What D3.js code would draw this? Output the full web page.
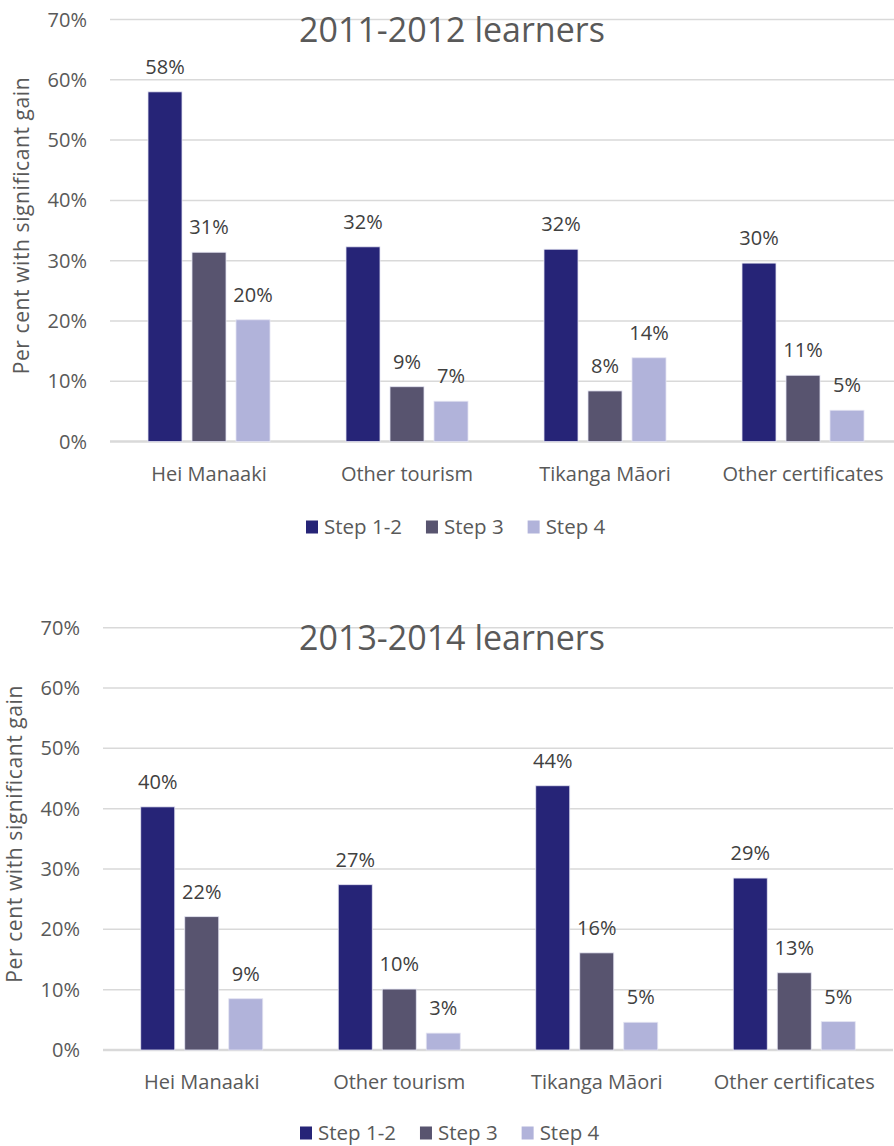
<!DOCTYPE html>
<html>
<head>
<meta charset="utf-8">
<script src="https://cdn.jsdelivr.net/npm/d3@7"></script>
<style>
  body { margin: 0; background: #fff; }
  text { font-family: "Open Sans", sans-serif; fill: #595959; }
</style>
</head>
<body>
<div id="chart"></div>
<script>
// data
var categories = ['Hei Manaaki', 'Other tourism', 'Tikanga Māori', 'Other certificates'];
var seriesNames = ['Step 1-2', 'Step 3', 'Step 4'];
var seriesColors = ['#262477', '#58546f', '#b1b3da'];
var yTicks = [0, 10, 20, 30, 40, 50, 60, 70];

var learners2011 = [
    [58, 31.4, 20.2],
    [32.3, 9.1, 6.7],
    [31.9, 8.4, 13.9],
    [29.6, 11.0, 5.2]
];
var learners2013 = [
    [40.3, 22.1, 8.5],
    [27.4, 10.1, 2.8],
    [43.8, 16.1, 4.6],
    [28.5, 12.8, 4.7]
];

var svg = d3.select('#chart')
    .append('svg')
    .attr('width', 894)
    .attr('height', 1146);

drawChart(svg, {
    title: '2011-2012 learners',
    data: learners2011,
    left: 110, right: 902, top: 19.5, bottom: 441.6,
    axisLabelX: 22, titleY: 42, legendX: 306, legendY: 527
});

drawChart(svg, {
    title: '2013-2014 learners',
    data: learners2013,
    left: 103, right: 893, top: 627.7, bottom: 1050,
    axisLabelX: 15, titleY: 650, legendX: 300, legendY: 1133
});

function drawChart(svg, o) {
    var g = svg.append('g');

    var x0 = d3.scaleBand()
        .domain(categories)
        .range([o.left, o.right]);

    var x1 = d3.scaleBand()
        .domain(seriesNames)
        .range([-61, 61])
        .paddingInner(10 / 44);

    var y = d3.scaleLinear()
        .domain([0, 70])
        .range([o.bottom, o.top]);

    // gridlines
    g.append('g')
        .selectAll('line')
        .data(yTicks)
        .enter()
        .append('line')
        .attr('x1', o.left)
        .attr('x2', o.right)
        .attr('y1', function (d) { return y(d); })
        .attr('y2', function (d) { return y(d); })
        .attr('stroke', '#d9d9d9')
        .attr('stroke-width', function (d) { return d === 0 ? 2.5 : 1.5; });

    // y tick labels
    g.append('g')
        .selectAll('text')
        .data(yTicks)
        .enter()
        .append('text')
        .attr('x', o.left - 23)
        .attr('y', function (d) { return y(d); })
        .attr('dy', '0.35em')
        .attr('text-anchor', 'end')
        .style('font-size', '20px')
        .text(function (d) { return d + '%'; });

    // bars
    var groups = g.append('g')
        .selectAll('g')
        .data(o.data)
        .enter()
        .append('g')
        .attr('transform', function (d, i) {
            return 'translate(' + (x0(categories[i]) + x0.bandwidth() / 2) + ',0)';
        });

    groups.selectAll('rect')
        .data(function (d) { return d; })
        .enter()
        .append('rect')
        .attr('x', function (d, j) { return x1(seriesNames[j]); })
        .attr('width', x1.bandwidth())
        .attr('y', function (d) { return y(d); })
        .attr('height', function (d) { return y(0) - y(d); })
        .attr('fill', function (d, j) { return seriesColors[j]; })
        .attr('stroke', '#e4e4f2')
        .attr('stroke-width', 0.8);

    groups.selectAll('text')
        .data(function (d) { return d; })
        .enter()
        .append('text')
        .attr('x', function (d, j) { return x1(seriesNames[j]) + x1.bandwidth() / 2; })
        .attr('y', function (d) { return y(d) - 18; })
        .attr('text-anchor', 'middle')
        .style('font-size', '20px')
        .style('fill', '#404040')
        .text(function (d) { return Math.round(d) + '%'; });

    // category labels
    g.append('g')
        .selectAll('text')
        .data(categories)
        .enter()
        .append('text')
        .attr('x', function (d) { return x0(d) + x0.bandwidth() / 2; })
        .attr('y', o.bottom + 39)
        .attr('text-anchor', 'middle')
        .style('font-size', '20px')
        .text(function (d) { return d; });

    // title
    g.append('text')
        .attr('x', 452)
        .attr('y', o.titleY)
        .attr('text-anchor', 'middle')
        .style('font-size', '34px')
        .text(o.title);

    // y axis title
    g.append('text')
        .attr('transform', 'translate(' + o.axisLabelX + ',' + ((o.top + o.bottom) / 2 - 5) + ') rotate(-90)')
        .attr('dy', '0.35em')
        .attr('text-anchor', 'middle')
        .style('font-size', '21px')
        .style('letter-spacing', '0.6px')
        .text('Per cent with significant gain');

    // legend
    var legend = g.append('g')
        .attr('transform', 'translate(' + o.legendX + ',' + o.legendY + ')');
    var lx = 0;
    seriesNames.forEach(function (name, j) {
        legend.append('rect')
            .attr('x', lx)
            .attr('y', -6.5)
            .attr('width', 12)
            .attr('height', 13)
            .attr('fill', seriesColors[j]);
        var t = legend.append('text')
            .attr('x', lx + 18)
            .attr('y', 0)
            .attr('dy', '0.35em')
            .style('font-size', '20.5px')
            .text(name);
        lx += 18 + t.node().getComputedTextLength() + 24;
    });
}
</script>
</body>
</html>
